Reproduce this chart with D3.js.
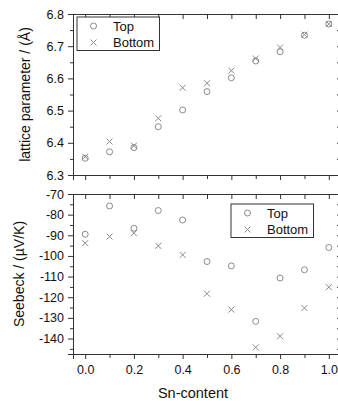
<!DOCTYPE html>
<html><head><meta charset="utf-8">
<script src="https://cdn.jsdelivr.net/npm/d3@7"></script>
<style>body{margin:0;background:#fff}svg{display:block}text{font-family:"Liberation Sans",Arial,sans-serif}</style>
</head><body>
<script>
const snContent = [0.0,0.1,0.2,0.3,0.4,0.5,0.6,0.7,0.8,0.9,1.0];
const latticeTop = [6.352,6.372,6.385,6.450,6.502,6.559,6.602,6.654,6.683,6.734,6.769];
const latticeBottom = [6.357,6.404,6.391,6.476,6.571,6.585,6.624,6.662,6.696,6.736,6.769];
const seebeckTop = [-89.5,-75.8,-86.6,-78.0,-82.6,-102.7,-104.8,-131.7,-110.7,-106.7,-95.9];
const seebeckBottom = [-93.8,-90.6,-89.0,-95.1,-99.5,-118.3,-126.0,-144.3,-138.9,-125.2,-115.1];
const xTicks = [0.0,0.2,0.4,0.6,0.8,1.0];
const latticeTicks = [6.3,6.4,6.5,6.6,6.7,6.8];
const seebeckTicks = [-140,-130,-120,-110,-100,-90,-80,-70];
const legendLabels = ["Top","Bottom"];

const W=338,H=401;
const svg=d3.select("body").append("svg").attr("width",W).attr("height",H);
const L=73,R=341;
const x=d3.scaleLinear().domain([-0.05,1.05]).range([L,R]);
const panels=[
 {y:d3.scaleLinear().domain([6.3,6.8]).range([175,14]),top:latticeTop,bot:latticeBottom,ticks:latticeTicks,minor:d3.range(6.35,6.8,0.1),fmt:d=>d.toFixed(1),label:"lattice parameter / (Å)",lx:25,legend:[77,17],showX:false},
 {y:d3.scaleLinear().domain([-147.5,-70]).range([354,194]),top:seebeckTop,bot:seebeckBottom,ticks:seebeckTicks,minor:d3.range(-145,-70,10),fmt:d=>String(d),label:"Seebeck / (µV/K)",lx:19.5,legend:[231,204],showX:true}
];
const stroke="#333",mark="#8a8a8a";
const xMinor=[0.1,0.3,0.5,0.7,0.9];
panels.forEach(p=>{
  const y=p.y, y0=y.range()[0], y1=y.range()[1];
  const g=svg.append("g");
  const la=d3.axisLeft(y).tickValues(p.ticks).tickFormat(p.fmt).tickSize(5).tickPadding(4);
  const lg=g.append("g").attr("transform",`translate(${L},0)`).call(la);
  lg.selectAll("text").attr("font-size",12.5).attr("fill","#111");
  g.append("g").attr("transform",`translate(${L},0)`).call(d3.axisLeft(y).tickValues(p.minor).tickFormat("").tickSize(3)).select(".domain").remove();
  g.append("g").attr("transform",`translate(${R},0)`).call(d3.axisRight(y).tickValues(p.ticks.concat(p.minor)).tickFormat("").tickSize(-4));
  g.append("g").attr("transform",`translate(0,${y1})`).call(d3.axisTop(x).tickValues(xTicks.concat(xMinor)).tickFormat("").tickSize(-5));
  const ba=g.append("g").attr("transform",`translate(0,${y0})`).call(d3.axisBottom(x).tickValues(xTicks).tickFormat(p.showX?(d=>d.toFixed(1)):"").tickSize(5).tickPadding(6));
  ba.selectAll("text").attr("font-size",12.5).attr("fill","#111");
  g.append("g").attr("transform",`translate(0,${y0})`).call(d3.axisBottom(x).tickValues(xMinor).tickFormat("").tickSize(4)).select(".domain").remove();
  g.selectAll(".domain,.tick line").attr("stroke",stroke);
  svg.append("text").attr("transform",`translate(${p.lx},${(y0+y1)/2}) rotate(-90)`).attr("text-anchor","middle").attr("dy","0.35em").attr("font-size",14).attr("fill","#111").text(p.label);
  g.selectAll("circle.pt").data(snContent).join("circle").attr("class","pt")
   .attr("cx",d=>x(d)).attr("cy",(d,i)=>y(p.top[i])).attr("r",3).attr("fill","none").attr("stroke",mark).attr("stroke-width",1);
  const s=3;
  g.selectAll("path.cx").data(snContent).join("path").attr("class","cx")
   .attr("d",(d,i)=>{const cx=x(d),cy=y(p.bot[i]);return `M${cx-s},${cy-s}L${cx+s},${cy+s}M${cx-s},${cy+s}L${cx+s},${cy-s}`;})
   .attr("stroke",mark).attr("stroke-width",1).attr("fill","none");
  const [lx,ly]=p.legend;
  const lgd=svg.append("g").attr("transform",`translate(${lx},${ly})`);
  lgd.append("rect").attr("width",82.5).attr("height",33.5).attr("fill","#fff").attr("stroke",stroke).attr("stroke-width",1);
  lgd.append("circle").attr("cx",16.5).attr("cy",9).attr("r",3).attr("fill","none").attr("stroke",mark);
  lgd.append("path").attr("d",`M${16.5-s},${25.5-s}L${16.5+s},${25.5+s}M${16.5-s},${25.5+s}L${16.5+s},${25.5-s}`).attr("stroke",mark);
  lgd.selectAll("text").data(legendLabels).join("text").attr("x",36).attr("y",(d,i)=>9+i*16.5).attr("dy","0.35em").attr("font-size",13).attr("fill","#111").text(d=>d);
});
svg.append("text").attr("x",193).attr("y",393).attr("text-anchor","middle").attr("dy","0.35em").attr("font-size",14.5).attr("fill","#111").text("Sn-content");
</script>
</body></html>
